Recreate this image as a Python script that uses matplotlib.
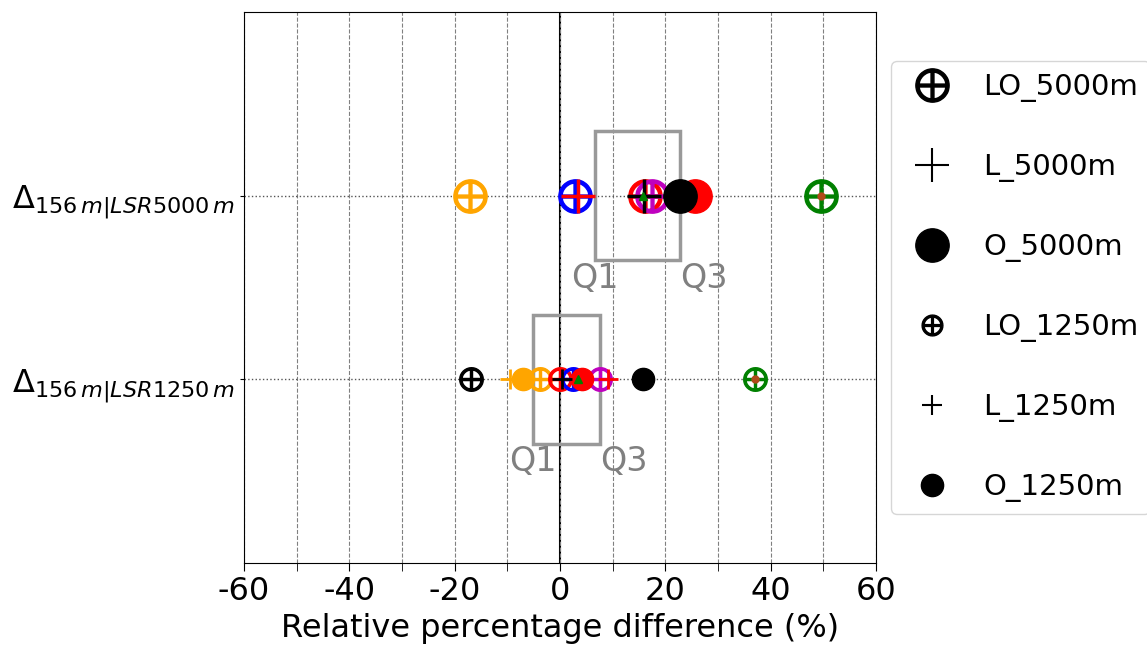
import matplotlib
matplotlib.use("Agg")
import matplotlib.pyplot as plt
from matplotlib.lines import Line2D
from matplotlib.patches import Rectangle

ROW_LABELS = [r"$\Delta_{156\,m|LSR1250\,m}$", r"$\Delta_{156\,m|LSR5000\,m}$"]
ROWS = [0, 1]

# 5000 m row
lo5000_colors = ["orange", "blue", "red", "m", "green"]
lo5000_vals = [-17.0, 2.8, 16.1, 17.5, 49.6]
l5000_colors = ["red", "black"]
l5000_vals = [3.4, 15.9]
o5000_colors = ["red", "black"]
o5000_vals = [25.6, 22.8]

# 1250 m row
lo1250_colors = ["black", "orange", "red", "blue", "m", "green"]
lo1250_vals = [-16.8, -3.8, 0.0, 2.5, 7.6, 37.0]
l1250_colors = ["orange", "black", "red"]
l1250_vals = [-9.5, 0.3, 9.1]
o1250_colors = ["orange", "red", "black"]
o1250_vals = [-7.0, 4.2, 15.8]

# box stats (1250, 5000)
q1 = [-5.1, 6.6]
q3 = [7.6, 22.8]
means = [3.4, 15.8]
outliers = [37.0, 49.6]

OPLUS = r"$\bigoplus$"

fig = plt.figure(figsize=(11.47, 6.57), dpi=100)
ax = fig.add_axes([0.2127, 0.1431, 0.551, 0.8386])

for i in range(2):
    y = ROWS[i]
    ax.add_patch(Rectangle((q1[i], y - 0.35), q3[i] - q1[i], 0.7,
                           fill=False, edgecolor="#999999", lw=2.5, zorder=2))
    ax.text(q1[i], y - 0.36, "Q1", color="gray", fontsize=24, ha="center", va="top")
    ax.text(q3[i], y - 0.36, "Q3", color="gray", fontsize=24, ha="left", va="top")

# 1250 m
for c, v in zip(lo1250_colors, lo1250_vals):
    ax.plot(v, 0, marker=OPLUS, ms=17, color=c, ls="none", zorder=3)
for c, v in zip(o1250_colors, o1250_vals):
    ax.plot(v, 0, marker="o", ms=16, color=c, ls="none", zorder=4)
for c, v in zip(l1250_colors, l1250_vals):
    ax.plot(v, 0, marker="+", ms=15, mew=2, color=c, ls="none", zorder=5)

# 5000 m
for c, v in zip(lo5000_colors, lo5000_vals):
    ax.plot(v, 1, marker=OPLUS, ms=24, color=c, ls="none", zorder=3)
for c, v in zip(o5000_colors, o5000_vals):
    ax.plot(v, 1, marker="o", ms=24, color=c, ls="none", zorder=4)
for c, v in zip(l5000_colors, l5000_vals):
    ax.plot(v, 1, marker="+", ms=24, mew=2.5, color=c, ls="none", zorder=5)

ax.plot(means, ROWS, marker="^", ms=6, color="green", ls="none", zorder=6)
ax.plot(outliers, ROWS, marker="o", ms=5, color="#b04a1a", ls="none", zorder=6)

ax.axvline(0, color="black", lw=1.5, zorder=1)
ax.set_xlim(-60, 60)
ax.set_ylim(-1, 2)
ax.set_xticks(range(-60, 61, 20))
ax.set_xticks(range(-50, 60, 20), minor=True)
ax.set_xticklabels([str(t) for t in range(-60, 61, 20)])
ax.tick_params(axis="x", which="both", labelsize=23, length=6)
ax.set_yticks(ROWS)
ax.set_yticklabels(ROW_LABELS, fontsize=23)
ax.tick_params(axis="y", length=3)
ax.grid(axis="x", which="both", ls="--", color="gray", lw=0.8)
ax.grid(axis="y", ls=":", color="#555555", lw=1)
ax.set_xlabel("Relative percentage difference (%)", fontsize=23)

handles = [
    Line2D([], [], marker=OPLUS, ms=24, color="black", ls="none"),
    Line2D([], [], marker="+", ms=24, mew=1.5, color="black", ls="none"),
    Line2D([], [], marker="o", ms=24, color="black", ls="none"),
    Line2D([], [], marker=OPLUS, ms=15, color="black", ls="none"),
    Line2D([], [], marker="+", ms=15, mew=1.5, color="black", ls="none"),
    Line2D([], [], marker="o", ms=16, color="black", ls="none"),
]
labels = ["LO_5000m", "L_5000m", "O_5000m", "LO_1250m", "L_1250m", "O_1250m"]
ax.legend(handles, labels, loc="center left", bbox_to_anchor=(1.024, 0.5),
          borderaxespad=0, fontsize=21, labelspacing=1.75, handletextpad=0.75)

fig.savefig("out.png", dpi=100)
